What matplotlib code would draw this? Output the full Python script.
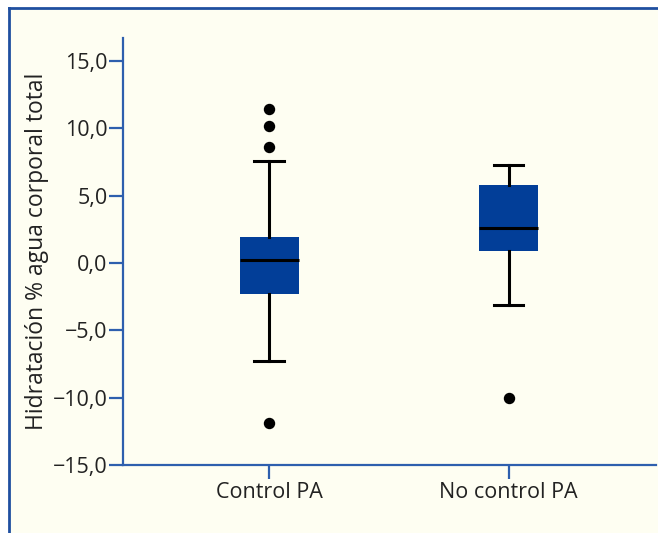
import matplotlib
matplotlib.use("Agg")
import matplotlib.pyplot as plt
from matplotlib.patches import Rectangle
from matplotlib.lines import Line2D

# ---- data ----
categories = ["Control PA", "No control PA"]
whisker_low = [-7.3, -3.15]
q1 = [-2.3, 0.92]
median = [0.2, 2.6]
q3 = [1.93, 5.8]
whisker_high = [7.6, 7.3]
outliers = [[11.45, 10.15, 8.6, -11.85], [-10.0]]
yticks = [15, 10, 5, 0, -5, -10, -15]
ytick_labels = ["15,0", "10,0", "5,0", "0,0", "\u22125,0", "\u221210,0", "\u221215,0"]
ylabel = "Hidratación % agua corporal total"

W, H = 658, 533
BG = "#fefef2"
FRAME = "#1f4fa0"
SPINE = "#2e5fae"
BOX = "#023e98"
TXT = "#222222"

plt.rcParams['font.family'] = ['Open Sans', 'DejaVu Sans']

fig = plt.figure(figsize=(W / 100, H / 100), dpi=100, facecolor="white")
# cream panel and frame
fig.patches.append(Rectangle((9 / W, 0), 1 - 9 / W, 1 - 8 / H, transform=fig.transFigure,
                             facecolor=BG, edgecolor="none", zorder=-10))
fig.lines.append(Line2D([9 / W, 1], [1 - 8 / H, 1 - 8 / H], transform=fig.transFigure,
                        color=FRAME, lw=2.0))
fig.lines.append(Line2D([9 / W, 9 / W], [0, 1 - 8 / H], transform=fig.transFigure,
                        color=FRAME, lw=2.0))

ax = fig.add_axes([123 / W, (H - 465) / H, (656 - 123) / W, (465 - 38) / H])
ax.set_facecolor("none")

stats = []
for i, c in enumerate(categories):
    stats.append(dict(label=c, whislo=whisker_low[i], q1=q1[i], med=median[i],
                      q3=q3[i], whishi=whisker_high[i], fliers=outliers[i]))

ax.bxp(stats, positions=[1, 2], widths=0.246, patch_artist=True,
       boxprops=dict(facecolor=BOX, edgecolor=BOX, linewidth=0),
       medianprops=dict(color="black", linewidth=2.2),
       whiskerprops=dict(color="black", linewidth=2.2),
       capprops=dict(color="black", linewidth=2.2),
       capwidths=0.123,
       flierprops=dict(marker="o", markerfacecolor="black", markeredgecolor="black",
                       markersize=7.2, linestyle="none"))

ax.set_xlim(0.39, 2.616)
ax.set_ylim(-15, 16.7)
ax.set_yticks(yticks)
ax.set_yticklabels(ytick_labels)
ax.set_xticks([1, 2])
ax.set_xticklabels(categories)

for s in ["top", "right"]:
    ax.spines[s].set_visible(False)
for s in ["left", "bottom"]:
    ax.spines[s].set_color(SPINE)
    ax.spines[s].set_linewidth(1.6)

ax.tick_params(axis="y", direction="out", length=10, width=1.6, color=SPINE,
               labelsize=15.5, labelcolor=TXT, pad=1)
ax.tick_params(axis="x", direction="out", length=10, width=1.6, color=SPINE,
               labelsize=15.5, labelcolor=TXT, pad=2)
ax.set_ylabel(ylabel, fontsize=16.5, color=TXT, labelpad=3)

fig.savefig("out.png", dpi=100, facecolor="white")
